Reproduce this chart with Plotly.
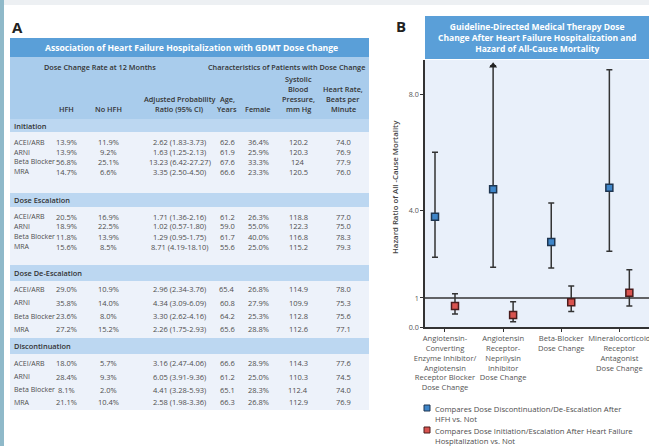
import plotly.graph_objects as go

W, H = 649, 446
FONT = "Open Sans"

# ---------------- Panel A: table data ----------------
sections = ["Initiation", "Dose Escalation", "Dose De-Escalation", "Discontinuation"]
drugs = ["ACEI/ARB", "ARNI", "Beta Blocker", "MRA"]
hfh_pct = [[13.9, 13.9, 56.8, 14.7], [20.5, 18.9, 11.8, 15.6],
           [29.0, 35.8, 23.6, 27.2], [18.0, 28.4, 8.1, 21.1]]
no_hfh_pct = [[11.9, 9.2, 25.1, 6.6], [16.9, 22.5, 13.9, 8.5],
              [10.9, 14.0, 8.0, 15.2], [5.7, 9.3, 2.0, 10.4]]
apr = [[2.62, 1.63, 13.23, 3.35], [1.71, 1.02, 1.29, 8.71],
       [2.96, 4.34, 3.30, 2.26], [3.16, 6.05, 4.41, 2.58]]
apr_lo = [[1.83, 1.25, 6.42, 2.50], [1.36, 0.57, 0.95, 4.19],
          [2.34, 3.09, 2.62, 1.75], [2.47, 3.91, 3.28, 1.98]]
apr_hi = [[3.73, 2.13, 27.27, 4.50], [2.16, 1.80, 1.75, 18.10],
          [3.76, 6.09, 4.16, 2.93], [4.06, 9.36, 5.93, 3.36]]
age_years = [[62.6, 61.9, 67.6, 66.6], [61.2, 59.0, 61.7, 55.6],
             [65.4, 60.8, 64.2, 65.6], [66.6, 61.2, 65.1, 66.3]]
female_pct = [[36.4, 25.9, 33.3, 23.3], [26.3, 55.0, 40.0, 25.0],
              [26.8, 27.9, 25.3, 28.8], [28.9, 25.0, 28.3, 26.8]]
sbp_mmhg = [["120.2", "120.3", "124", "120.5"], ["118.8", "122.3", "116.8", "115.2"],
            ["114.9", "109.9", "112.8", "112.6"], ["114.3", "110.3", "112.4", "112.9"]]
heart_rate = [[74.0, 76.9, 77.9, 76.0], [77.0, 75.0, 78.3, 79.3],
              [78.0, 75.3, 75.6, 77.1], [77.6, 74.5, 74.0, 76.9]]

# ---------------- Panel B: hazard ratio data ----------------
hr_categories = [
    "Angiotensin-<br>Converting<br>Enzyme Inhibitor/<br>Angiotensin<br>Receptor Blocker<br>Dose Change",
    "Angiotensin<br>Receptor-<br>Neprilysin<br>Inhibitor<br>Dose Change",
    "Beta-Blocker<br>Dose Change",
    "Mineralocorticoid<br>Receptor<br>Antagonist<br>Dose Change",
]
blue_hr = [3.80, 4.75, 2.93, 4.80]
blue_lo = [2.40, 2.06, 2.03, 2.61]
blue_hi = [6.02, 9.00, 4.27, 8.86]
blue_truncated = [False, True, False, False]
red_hr = [0.72, 0.41, 0.85, 1.18]
red_lo = [0.45, 0.18, 0.53, 0.72]
red_hi = [1.15, 0.87, 1.41, 1.97]
y_tickvals = [0, 1, 4, 8]
y_ticktext = ["0.0", "1", "4.0", "8.0"]
legend_blue = "Compares Dose Discontinuation/De-Escalation After<br>HFH vs. Not"
legend_red = "Compares Dose Initiation/Escalation After Heart Failure<br>Hospitalization vs. Not"


def px(x):
    return x / W


def py(y):
    return 1 - y / H


shapes = []
annotations = []


def rect(x0, y0, x1, y1, color, line=None):
    shapes.append(dict(type="rect", xref="paper", yref="paper",
                       x0=px(x0), x1=px(x1), y0=py(y1), y1=py(y0),
                       fillcolor=color, line=dict(width=0) if line is None else line,
                       layer="below"))


def text(x, y, s, size=7, color="#555555", weight="normal", xanchor="center",
         yanchor="middle", align="center", angle=0):
    annotations.append(dict(x=px(x), y=py(y), xref="paper", yref="paper", text=s,
                            showarrow=False, xanchor=xanchor, yanchor=yanchor,
                            align=align, textangle=angle, borderpad=0,
                            font=dict(family=FONT, size=size, color=color, weight=weight)))


# page frame
rect(0, 0, W, 5, "#EDF0F3")
rect(0, 0, 4, H, "#8FB9C9")

# ---- Panel A layout ----
text(17, 26.5, "A", size=15, color="#222222", weight="bold")
TX0, TX1 = 10, 369
rect(TX0, 38, TX1, 57, "#5A9FD8")
rect(TX0, 57, TX1, 119, "#A9CCEC")
rect(TX0, 119, TX1, 410, "#EDF2FA")
band_y = [(119, 132), (193, 207), (265, 281), (338, 354)]
for (a, b) in band_y:
    rect(TX0, a, TX1, b, "#BCD7F1")

text(191, 47.5, "Association of Heart Failure Hospitalization with GDMT Dose Change",
     size=8.6, color="#FFFFFF", weight="bold")
HC = "#333333"
HW = 600
HS = 7.3
text(100, 67, "Dose Change Rate at 12 Months", size=HS, color=HC, weight=HW)
text(286, 67, "Characteristics of Patients with Dose Change", size=HS, color=HC, weight=HW)
col_x = [66, 108, 180, 227, 258, 298, 343]
hdr_lines = [
    ["HFH"], ["No HFH"], ["Adjusted Probability", "Ratio (95% CI)"], ["Age,", "Years"],
    ["Female"], ["Systolic", "Blood", "Pressure,", "mm Hg"], ["Heart Rate,", "Beats per", "Minute"],
]
for cx, lines in zip(col_x, hdr_lines):
    n = len(lines)
    for k, ln in enumerate(lines):
        text(cx, 109 - (n - 1 - k) * 10, ln, size=HS, color=HC, weight=HW)

section_y = [126, 200, 273, 346]
row_y = [[142, 152, 161.8, 171.6], [216.5, 226.5, 236.5, 246.5],
         [289, 302.5, 316, 329], [363, 376.5, 389.5, 402]]
DC = "#4E4E4E"
DS = 7.5
for s, sec in enumerate(sections):
    text(13, section_y[s], sec, size=7.4, color=HC, weight=HW, xanchor="left")
    for r, drug in enumerate(drugs):
        yy = row_y[s][r]
        text(13, yy, drug, size=7.0, color=DC, xanchor="left")
        cells = [
            f"{hfh_pct[s][r]:.1f}%",
            f"{no_hfh_pct[s][r]:.1f}%",
            f"{apr[s][r]:.2f} ({apr_lo[s][r]:.2f}-{apr_hi[s][r]:.2f})",
            f"{age_years[s][r]:.1f}",
            f"{female_pct[s][r]:.1f}%",
            sbp_mmhg[s][r],
            f"{heart_rate[s][r]:.1f}",
        ]
        for cx, c in zip(col_x, cells):
            text(cx, yy, c, size=DS, color=DC)

# ---- Panel B layout ----
text(401, 26, "B", size=15, color="#222222", weight="bold")
rect(425, 16, W, 59, "#5A9FD8")
text(537, 37.5, "Guideline-Directed Medical Therapy Dose<br>Change After Heart Failure Hospitalization and<br>Hazard of All-Cause Mortality",
     size=8.5, color="#FFFFFF", weight="bold")
text(395, 187, "Hazard Ratio of All -Cause Mortality", size=7.8, color="#444444",
     weight=HW, angle=-90)

# legend (drawn as key boxes + text)
LS = 7.7
rect(424, 405, 430, 411, "#3F86C9", line=dict(color="#1E3550", width=1))
text(434, 402.5, legend_blue, size=LS, color=DC, xanchor="left", yanchor="top", align="left")
rect(424, 427, 430, 433, "#D9534F", line=dict(color="#4A1C1C", width=1))
text(434, 425, legend_red, size=LS, color=DC, xanchor="left", yanchor="top", align="left")

OFF = 0.172
xs = list(range(len(hr_categories)))
fig = go.Figure()
fig.add_trace(go.Scatter(
    x=[i - OFF for i in xs], y=blue_hr, mode="markers",
    marker=dict(symbol="square", size=7, color="#3F86C9", line=dict(color="#1E3550", width=1.5)),
    error_y=dict(type="data", symmetric=False,
                 array=[h - m for h, m in zip(blue_hi, blue_hr)],
                 arrayminus=[m - l for m, l in zip(blue_hr, blue_lo)],
                 color="#333333", thickness=1.5, width=3),
    showlegend=False, hoverinfo="skip"))
fig.add_trace(go.Scatter(
    x=[i + OFF for i in xs], y=red_hr, mode="markers",
    marker=dict(symbol="square", size=7, color="#D9534F", line=dict(color="#4A1C1C", width=1.5)),
    error_y=dict(type="data", symmetric=False,
                 array=[h - m for h, m in zip(red_hi, red_hr)],
                 arrayminus=[m - l for m, l in zip(red_hr, red_lo)],
                 color="#333333", thickness=1.5, width=3),
    showlegend=False, hoverinfo="skip"))
fig.add_trace(go.Scatter(
    x=[i - OFF for i, t in zip(xs, blue_truncated) if t],
    y=[h for h, t in zip(blue_hi, blue_truncated) if t],
    mode="markers", cliponaxis=False,
    marker=dict(symbol="triangle-up", size=7, color="#222222"),
    showlegend=False, hoverinfo="skip"))

shapes.append(dict(type="line", xref="x domain", yref="y", x0=0, x1=1, y0=1, y1=1,
                   line=dict(color="#333333", width=1.3), layer="below"))

fig.update_layout(
    width=W, height=H, autosize=False,
    margin=dict(l=0, r=0, t=0, b=0, pad=0, autoexpand=False),
    paper_bgcolor="#FFFFFF", plot_bgcolor="#E9F0FA",
    font=dict(family=FONT, size=7, color="#555555"),
    shapes=shapes, annotations=annotations,
    xaxis=dict(domain=[px(425), 1], range=[-0.344, 3.51], tickvals=xs,
               ticktext=hr_categories, ticks="outside", ticklen=3, tickwidth=1.2,
               tickcolor="#333333", showline=True, linecolor="#333333", linewidth=1.5,
               showgrid=False, zeroline=False, tickangle=0, ticklabeloverflow="allow",
               automargin=False,
               tickfont=dict(family=FONT, size=7.6, color="#555555")),
    yaxis=dict(domain=[py(327), py(60)], range=[0, 9.2], tickvals=y_tickvals,
               ticktext=y_ticktext, ticks="outside", ticklen=3, tickwidth=1.2,
               tickcolor="#333333", showline=True, linecolor="#333333", linewidth=1.5,
               showgrid=False, zeroline=False, automargin=False,
               tickfont=dict(family=FONT, size=7.2, color="#555555")),
)

fig.write_html(
    "out.html", config={"displayModeBar": False},
    post_script=(
        "document.documentElement.style.margin='0';"
        "document.documentElement.style.overflow='hidden';"
        "document.body.style.margin='0';"
        "document.body.style.padding='0';"
        "document.body.style.overflow='hidden';"
        "var gd=document.getElementById('{plot_id}');"
        "gd.style.position='fixed';gd.style.left='0px';gd.style.top='0px';"
    ),
)
